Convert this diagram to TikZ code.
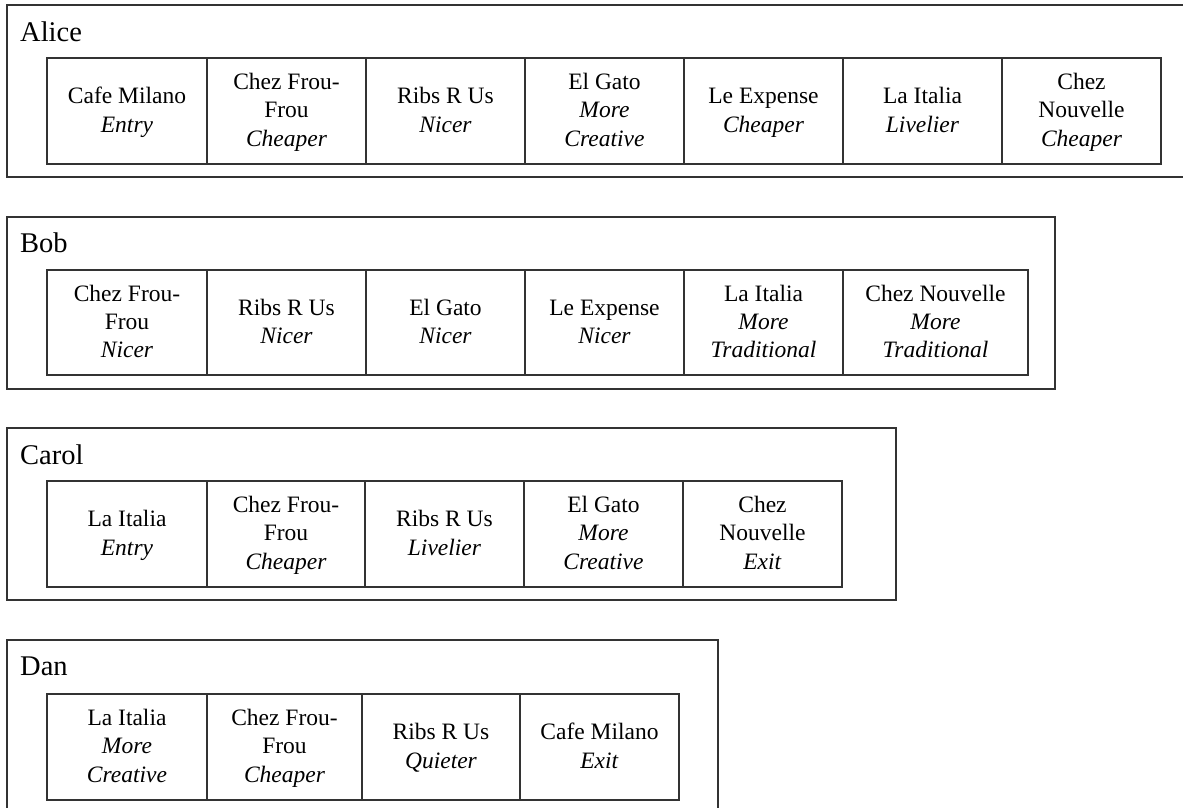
\documentclass[tikz,border=0pt]{standalone}
\usepackage{fontspec}
\setmainfont{Liberation Serif}
\newcommand{\lstrut}{\rule[-7.3pt]{0pt}{28.3pt}}
\newcommand{\rn}[1]{\lstrut#1}
\newcommand{\rt}[1]{\lstrut\textit{#1}}
\begin{document}
\begin{tikzpicture}[x=1pt,y=-1pt,
  outerbox/.style={draw=black!80, line width=1.2pt, rectangle, anchor=north west, inner sep=0pt, outer sep=0pt, minimum height=172pt},
  cellbox/.style={draw=black!80, line width=1.1pt, rectangle, anchor=north west, inner sep=0pt, outer sep=0pt, align=center, minimum height=106pt, font=\fontsize{23.5}{28.3}\selectfont},
  lbl/.style={anchor=base west, inner sep=0pt, font=\fontsize{28.5}{34}\selectfont}]
\useasboundingbox[fill=white] (0,0) rectangle (1183,808);

% Alice
\node[outerbox, minimum width=1200pt] (alice) at (7,5) {};
\node[lbl] (alicelbl) at (20,42) {Alice};
\node[cellbox, minimum width=160pt] (a1) at (47,58) {\rn{Cafe Milano}\\\rt{Entry}};
\node[cellbox, minimum width=159pt] (a2) at (207,58) {\rn{Chez Frou-}\\\rn{Frou}\\\rt{Cheaper}};
\node[cellbox, minimum width=159pt] (a3) at (366,58) {\rn{Ribs R Us}\\\rt{Nicer}};
\node[cellbox, minimum width=159pt] (a4) at (525,58) {\rn{El Gato}\\\rt{More}\\\rt{Creative}};
\node[cellbox, minimum width=159pt] (a5) at (684,58) {\rn{Le Expense}\\\rt{Cheaper}};
\node[cellbox, minimum width=159pt] (a6) at (843,58) {\rn{La Italia}\\\rt{Livelier}};
\node[cellbox, minimum width=159pt] (a7) at (1002,58) {\rn{Chez}\\\rn{Nouvelle}\\\rt{Cheaper}};

% Bob
\node[outerbox, minimum width=1048pt] (bob) at (7,217) {};
\node[lbl] (boblbl) at (20,252) {Bob};
\node[cellbox, minimum width=160pt, minimum height=105pt] (b1) at (47,270) {\rn{Chez Frou-}\\\rn{Frou}\\\rt{Nicer}};
\node[cellbox, minimum width=159pt, minimum height=105pt] (b2) at (207,270) {\rn{Ribs R Us}\\\rt{Nicer}};
\node[cellbox, minimum width=159pt, minimum height=105pt] (b3) at (366,270) {\rn{El Gato}\\\rt{Nicer}};
\node[cellbox, minimum width=159pt, minimum height=105pt] (b4) at (525,270) {\rn{Le Expense}\\\rt{Nicer}};
\node[cellbox, minimum width=159pt, minimum height=105pt] (b5) at (684,270) {\rn{La Italia}\\\rt{More}\\\rt{Traditional}};
\node[cellbox, minimum width=185pt, minimum height=105pt] (b6) at (843,270) {\rn{Chez Nouvelle}\\\rt{More}\\\rt{Traditional}};

% Carol
\node[outerbox, minimum width=889pt] (carol) at (7,428) {};
\node[lbl] (carollbl) at (20,464) {Carol};
\node[cellbox, minimum width=160pt] (c1) at (47,481) {\rn{La Italia}\\\rt{Entry}};
\node[cellbox, minimum width=158pt] (c2) at (207,481) {\rn{Chez Frou-}\\\rn{Frou}\\\rt{Cheaper}};
\node[cellbox, minimum width=159pt] (c3) at (365,481) {\rn{Ribs R Us}\\\rt{Livelier}};
\node[cellbox, minimum width=159pt] (c4) at (524,481) {\rn{El Gato}\\\rt{More}\\\rt{Creative}};
\node[cellbox, minimum width=159pt] (c5) at (683,481) {\rn{Chez}\\\rn{Nouvelle}\\\rt{Exit}};

% Dan
\node[outerbox, minimum width=711pt] (dan) at (7,640) {};
\node[lbl] (danlbl) at (20,675) {Dan};
\node[cellbox, minimum width=160pt] (d1) at (47,694) {\rn{La Italia}\\\rt{More}\\\rt{Creative}};
\node[cellbox, minimum width=155pt] (d2) at (207,694) {\rn{Chez Frou-}\\\rn{Frou}\\\rt{Cheaper}};
\node[cellbox, minimum width=158pt] (d3) at (362,694) {\rn{Ribs R Us}\\\rt{Quieter}};
\node[cellbox, minimum width=159pt] (d4) at (520,694) {\rn{Cafe Milano}\\\rt{Exit}};
\end{tikzpicture}
\end{document}
